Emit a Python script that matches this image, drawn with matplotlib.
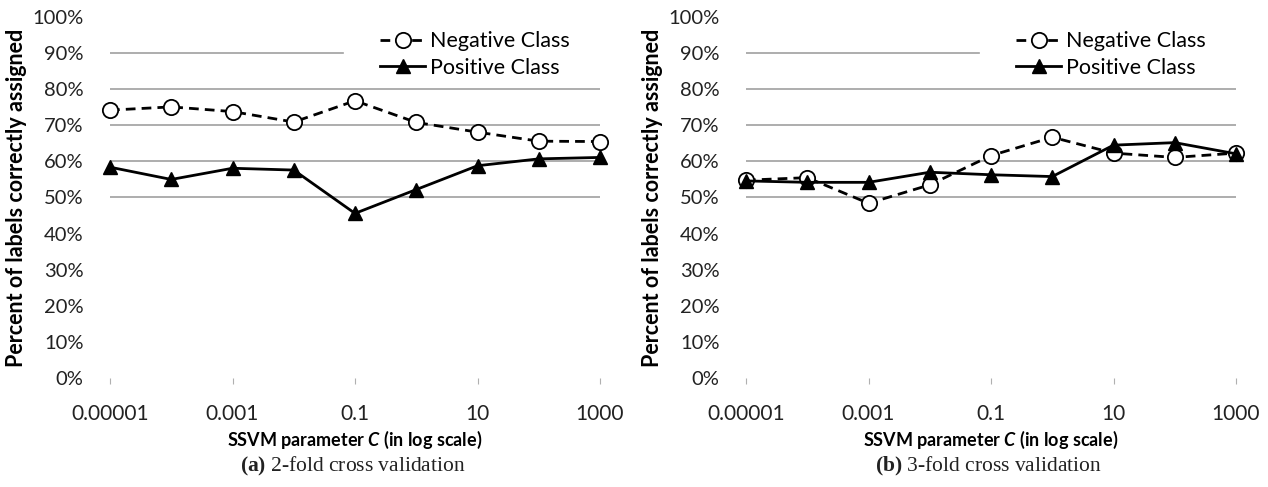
import matplotlib
matplotlib.use("Agg")
import matplotlib.pyplot as plt

# values (percent of labels correctly assigned)
c_values = ["0.00001", "0.0001", "0.001", "0.01", "0.1", "1", "10", "100", "1000"]
neg_2fold = [74.2, 75.1, 73.8, 70.9, 76.8, 70.8, 68.1, 65.6, 65.5]
pos_2fold = [58.4, 55.0, 58.1, 57.6, 45.6, 52.2, 58.8, 60.7, 61.1]
neg_3fold = [54.8, 55.5, 48.4, 53.5, 61.6, 66.7, 62.3, 61.1, 62.3]
pos_3fold = [54.6, 54.2, 54.2, 57.0, 56.3, 55.8, 64.5, 65.2, 62.1]
captions = ["(a)", "(b)"]
caption_text = ["2-fold cross validation", "3-fold cross validation"]

plt.rcParams['font.family'] = ['Lato', 'DejaVu Sans']
plt.rcParams['mathtext.fontset'] = 'custom'
plt.rcParams['mathtext.it'] = 'Lato:italic:bold'
plt.rcParams['mathtext.bf'] = 'Liberation Serif:bold'
plt.rcParams['mathtext.rm'] = 'Liberation Serif'

W, H = 1268, 487
fig = plt.figure(figsize=(W / 100, H / 100), dpi=100)

def px_axes(left, right, top, bottom):
    return fig.add_axes([left / W, 1 - bottom / H, (right - left) / W, (bottom - top) / H])

panels = [
    (px_axes(110, 600, 17, 378), neg_2fold, pos_2fold),
    (px_axes(746, 1236, 17, 378), neg_3fold, pos_3fold),
]

idx = list(range(len(c_values)))
for k, (ax, neg, pos) in enumerate(panels):
    ax.set_xlim(0, len(c_values) - 1)
    ax.set_ylim(0, 1)
    for s in ax.spines.values():
        s.set_visible(False)

    # gridlines (upper part of the 90% line is hidden by the legend)
    for lev in [0.5, 0.6, 0.7, 0.8]:
        ax.axhline(lev, color='#a0a0a0', lw=1.2, zorder=0)
    ax.axhline(0.9, xmin=0, xmax=0.475, color='#a0a0a0', lw=1.2, zorder=0)

    ax.plot(idx, [v / 100 for v in neg], ls=(0, (3.5, 2.2)), color='black', lw=2,
            marker='o', ms=11, mfc='white', mec='black', mew=1.3,
            label='Negative Class', clip_on=False, zorder=3)
    ax.plot(idx, [v / 100 for v in pos], ls='-', color='black', lw=2,
            marker='^', ms=10.5, mfc='black', mec='black',
            label='Positive Class', clip_on=False, zorder=4)

    ax.set_yticks([i / 10 for i in range(11)])
    ax.set_yticklabels([f"{i * 10}%" for i in range(11)], fontsize=14.5, color='#222222')
    ax.tick_params(axis='y', length=0, pad=19)
    ax.set_xticks(idx[::2])
    ax.set_xticklabels(c_values[::2], fontsize=15, color='#222222')
    ax.tick_params(axis='x', length=4, width=0.8, color='#b0b0b0', pad=15, direction='out')

    ax.set_ylabel("Percent of labels correctly assigned", fontsize=15.5,
                  fontweight='bold', labelpad=4)
    ax.set_xlabel(r"SSVM parameter $C$ (in log scale)", fontsize=13,
                  fontweight='bold', labelpad=3)

    leg = ax.legend(loc='upper left', bbox_to_anchor=(0.53, 0.99), frameon=False,
                    fontsize=15.5, handlelength=2.05, handletextpad=0.25,
                    labelspacing=0.3, borderpad=0, numpoints=1)

    cx = ax.get_position().x0 + ax.get_position().width / 2 - 0.002
    fig.text(cx, 1 - 466 / H, r"$\mathbf{" + captions[k] + "}$ " + caption_text[k],
             family='Liberation Serif', fontsize=15.5, color='#222222',
             ha='center', va='center')

fig.savefig("out.png", dpi=100)
